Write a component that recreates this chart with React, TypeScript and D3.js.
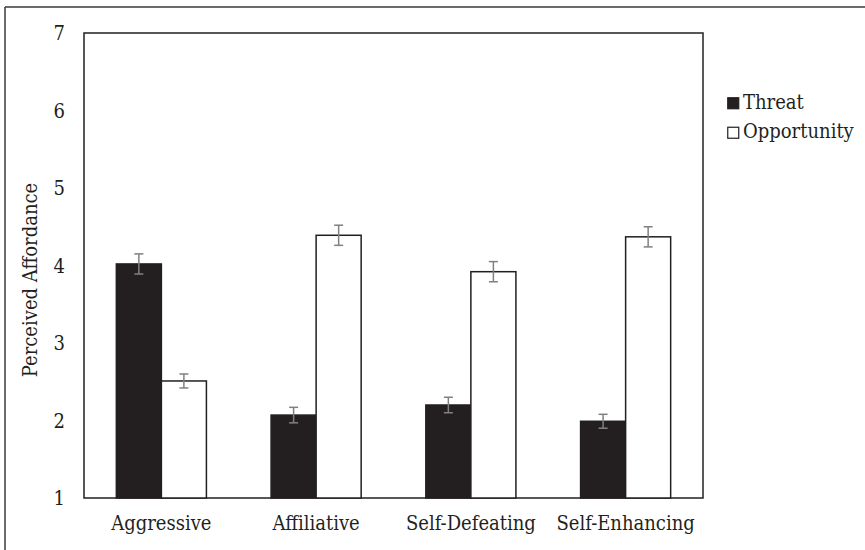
import React from "react";
import * as d3 from "d3";

const categories = ["Aggressive", "Affiliative", "Self-Defeating", "Self-Enhancing"];
const seriesNames = ["Threat", "Opportunity"];
const threatValues = [4.02, 2.07, 2.2, 1.99];
const opportunityValues = [2.51, 4.39, 3.92, 4.37];
const threatErrors = [0.13, 0.1, 0.1, 0.09];
const opportunityErrors = [0.09, 0.13, 0.13, 0.13];
const yTicks = [1, 2, 3, 4, 5, 6, 7];

const W = 865;
const H = 550;
const plot = { left: 84, right: 703, top: 33, bottom: 498 };
const font = '"DejaVu Serif Condensed", "DejaVu Serif", serif';
const dark = "#231f20";
const errColor = "#808080";

export default function App() {
  const x0 = d3.scaleBand<string>().domain(categories).range([plot.left, plot.right]).paddingInner(0.418).paddingOuter(0.209);
  const x1 = d3.scaleBand<string>().domain(seriesNames).range([0, x0.bandwidth()]);
  const y = d3.scaleLinear().domain([1, 7]).range([plot.bottom, plot.top]);

  const series = [
    { name: "Threat", values: threatValues, errors: threatErrors, fill: dark },
    { name: "Opportunity", values: opportunityValues, errors: opportunityErrors, fill: "#ffffff" },
  ];

  return (
    <svg width={W} height={H} style={{ position: "absolute", left: 0, top: 0, background: "#fff" }} fontFamily={font}>
      <rect x={0} y={0} width={W} height={H} fill="#fff" />
      <line x1={5} y1={7} x2={W} y2={7} stroke="#3a3a3a" strokeWidth={1.5} />
      <line x1={5} y1={7} x2={5} y2={H} stroke="#3a3a3a" strokeWidth={1.5} />

      <rect x={plot.left} y={plot.top} width={plot.right - plot.left} height={plot.bottom - plot.top} fill="none" stroke={dark} strokeWidth={1.5} />

      {series.map((s) =>
        categories.map((c, i) => {
          const bx = (x0(c) ?? 0) + (x1(s.name) ?? 0);
          const bw = x1.bandwidth();
          const top = y(s.values[i]);
          return (
            <rect key={s.name + c} x={bx} y={top} width={bw} height={y(1) - top} fill={s.fill} stroke={dark} strokeWidth={1.5} />
          );
        })
      )}

      {series.map((s) =>
        categories.map((c, i) => {
          const cx = (x0(c) ?? 0) + (x1(s.name) ?? 0) + x1.bandwidth() / 2;
          const hi = y(s.values[i] + s.errors[i]);
          const lo = y(s.values[i] - s.errors[i]);
          return (
            <g key={"e" + s.name + c} stroke={errColor} strokeWidth={1.5}>
              <line x1={cx} x2={cx} y1={hi} y2={lo} />
              <line x1={cx - 4.5} x2={cx + 4.5} y1={hi} y2={hi} />
              <line x1={cx - 4.5} x2={cx + 4.5} y1={lo} y2={lo} />
            </g>
          );
        })
      )}

      {yTicks.map((t) => (
        <text key={t} x={65} y={y(t)} dy="0.35em" textAnchor="end" fontSize={20} fill={dark}>
          {t}
        </text>
      ))}

      <text transform={`translate(37, 280) rotate(-90)`} textAnchor="middle" fontSize={20} fill={dark}>
        Perceived Affordance
      </text>

      {categories.map((c) => (
        <text key={c} x={(x0(c) ?? 0) + x0.bandwidth() / 2} y={530} textAnchor="middle" fontSize={20} fill={dark}>
          {c}
        </text>
      ))}

      {series.map((s, i) => (
        <g key={"l" + s.name} transform={`translate(727, ${97 + i * 29.5})`}>
          <rect x={0.75} y={0.75} width={11} height={11} fill={s.fill} stroke={dark} strokeWidth={1.2} />
          <text x={16} y={11.5} fontSize={20} fill={dark}>
            {s.name}
          </text>
        </g>
      ))}
    </svg>
  );
}
